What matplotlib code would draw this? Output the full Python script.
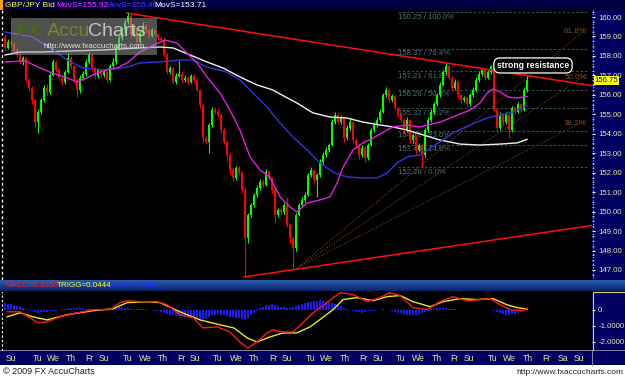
import numpy as np
import matplotlib
matplotlib.use("Agg")
import matplotlib.pyplot as plt
from matplotlib.patches import Rectangle
from matplotlib.colors import LinearSegmentedColormap
import matplotlib.transforms as mtransforms

plt.rcParams['font.family'] = ['Liberation Sans', 'DejaVu Sans']

# ---- 4h candles, GBP/JPY (open = previous close) ----
first_open = 158.97
closes = [158.41, 158.72, 158.61, 158.30, 158.05, 157.69, 157.89, 156.76, 156.35, 155.73,
          154.60, 155.12, 155.73, 156.35, 156.15, 157.02, 157.69, 157.28, 156.87, 156.66,
          157.17, 157.89, 157.48, 156.76, 156.25, 156.87, 157.07, 157.69, 158.05, 157.38,
          156.97, 157.28, 157.02, 157.17, 156.76, 157.48, 157.69, 158.41, 158.92, 159.33,
          159.74, 160.05, 159.08, 159.43, 158.72, 159.18, 159.54, 159.33, 159.02, 159.33,
          159.13, 158.92, 158.82, 158.05, 157.17, 157.38, 156.66, 156.97, 157.07, 156.76,
          156.87, 156.66, 156.97, 156.76, 156.25, 155.48, 153.78, 153.58, 154.45, 155.22,
          155.12, 154.96, 154.19, 153.58, 152.91, 152.14, 151.73, 152.24, 152.03, 151.11,
          148.64, 149.83, 150.34, 150.85, 151.21, 151.52, 151.37, 152.03, 151.73, 151.11,
          149.83, 150.08, 149.98, 150.34, 149.31, 148.64, 148.13, 149.83, 150.34, 150.60,
          150.85, 151.88, 152.14, 151.62, 151.88, 152.55, 152.91, 153.17, 153.42, 154.60,
          154.96, 154.60, 154.81, 153.78, 154.30, 154.60, 153.68, 153.42, 152.91, 153.27,
          152.75, 153.42, 154.19, 154.45, 154.71, 155.12, 155.99, 156.25, 155.73, 155.94,
          155.32, 154.96, 154.71, 154.19, 154.71, 153.68, 153.94, 153.17, 153.42, 152.91,
          154.19, 154.71, 155.12, 155.53, 155.99, 156.51, 157.17, 157.48, 156.87, 156.35,
          156.66, 155.99, 155.73, 155.84, 155.53, 155.99, 156.25, 156.76, 157.07, 157.28,
          156.87, 157.17, 157.48, 155.22, 154.30, 154.96, 154.60, 154.96, 154.19, 155.32,
          155.12, 155.53, 155.22, 156.25, 156.75]
highs = [159.10, 158.85, 158.80, 158.70, 158.40, 158.15, 158.00, 157.95, 156.85, 156.45,
         155.80, 155.25, 155.85, 156.50, 156.55, 157.15, 157.85, 157.80, 157.40, 157.00,
         157.30, 158.15, 158.00, 157.55, 156.85, 157.00, 157.20, 157.85, 158.20, 158.10,
         157.45, 157.40, 157.35, 157.30, 157.25, 157.60, 157.90, 158.55, 159.10, 159.50,
         159.90, 160.25, 160.15, 159.60, 159.50, 159.30, 159.75, 159.65, 159.40, 159.45,
         159.40, 159.20, 159.00, 158.90, 158.15, 157.50, 157.45, 157.10, 157.80, 157.15,
         157.00, 156.95, 157.05, 157.05, 156.85, 156.30, 155.55, 153.90, 154.55, 155.35,
         155.35, 155.25, 155.05, 154.30, 153.65, 153.00, 152.25, 152.35, 152.35, 152.10,
         151.20, 149.95, 150.45, 150.95, 151.35, 151.65, 151.70, 152.20, 152.15, 151.80,
         151.20, 150.20, 150.20, 150.45, 150.75, 149.40, 148.70, 149.95, 150.45, 150.75,
         151.00, 152.00, 152.30, 152.20, 152.00, 152.70, 153.05, 153.30, 153.55, 154.75,
         155.10, 155.05, 154.95, 154.90, 154.45, 154.80, 154.65, 153.80, 153.50, 153.40,
         153.35, 153.55, 154.30, 154.60, 154.85, 155.25, 156.10, 156.40, 156.35, 156.05,
         156.00, 155.40, 155.05, 154.80, 154.85, 154.75, 154.05, 154.00, 153.55, 153.50,
         154.30, 154.85, 155.25, 155.65, 156.10, 156.65, 157.30, 157.65, 157.55, 156.95,
         156.80, 156.75, 156.05, 155.95, 155.95, 156.10, 156.40, 156.90, 157.20, 157.40,
         157.35, 157.30, 157.55, 157.55, 155.30, 155.10, 155.05, 155.10, 155.05, 155.45,
         155.45, 155.65, 155.60, 156.40, 156.95]
lows = [158.30, 158.35, 158.50, 158.20, 157.95, 157.60, 157.55, 156.65, 156.20, 155.55,
        154.35, 154.05, 155.00, 155.65, 156.00, 156.05, 156.95, 157.15, 156.75, 156.50,
        156.55, 157.10, 157.35, 156.65, 155.90, 156.10, 156.75, 156.95, 157.60, 157.25,
        156.80, 156.85, 156.90, 156.90, 156.60, 156.70, 157.40, 157.60, 158.30, 158.80,
        159.20, 159.65, 158.95, 158.95, 158.60, 158.65, 159.05, 159.20, 158.90, 158.95,
        159.00, 158.80, 158.70, 157.95, 157.05, 157.05, 156.55, 156.55, 156.90, 156.65,
        156.65, 156.55, 156.60, 156.65, 156.15, 155.30, 153.55, 153.45, 153.00, 154.35,
        155.00, 154.85, 154.05, 153.45, 152.60, 151.95, 151.55, 151.60, 151.90, 150.95,
        146.64, 148.40, 149.70, 150.25, 150.75, 151.10, 151.25, 151.30, 151.60, 150.95,
        149.40, 149.70, 149.85, 149.90, 149.20, 148.40, 147.10, 148.00, 149.75, 150.25,
        150.50, 150.80, 151.80, 151.50, 150.75, 151.80, 152.45, 152.80, 153.05, 153.35,
        154.50, 154.50, 154.50, 153.60, 153.70, 154.20, 153.55, 153.30, 152.70, 152.80,
        152.55, 152.65, 153.35, 154.10, 154.35, 154.60, 155.05, 155.90, 155.60, 155.65,
        155.20, 154.85, 154.60, 154.05, 154.10, 153.50, 153.55, 152.95, 153.05, 152.29,
        152.80, 154.10, 154.60, 155.00, 155.45, 155.90, 156.45, 157.05, 156.75, 156.20,
        156.25, 155.85, 155.60, 155.65, 155.40, 155.45, 155.90, 156.15, 156.65, 156.95,
        156.75, 156.80, 157.05, 155.10, 154.10, 154.20, 154.45, 154.50, 153.80, 154.10,
        155.00, 155.05, 155.10, 155.15, 156.15]

# moving averages (bar index, value)
mag_idx = [0, 6.7, 11.7, 15, 20.7, 24, 27.3, 30.7, 34, 37.3, 40.7, 45, 48.3, 53.3, 57.3, 64,
           67.3, 71.7, 75, 78.3, 81.7, 85, 88.3, 91.7, 95, 97.3, 100.7, 105, 108.3, 110.7,
           112.7, 116, 119.3, 122.7, 127.3, 129.3, 134, 138.3, 145, 149.3, 155, 158.3,
           160.7, 162.7, 165, 167.7, 170.7, 174]
mag_val = [157.69, 157.74, 157.38, 157.17, 156.87, 156.66, 156.87, 157.12, 157.28, 157.38,
           157.64, 158.20, 158.46, 158.82, 158.66, 157.64, 156.92, 156.09, 155.22, 154.19,
           152.81, 152.14, 151.78, 150.75, 150.24, 149.98, 150.44, 150.60, 150.75, 151.47,
           152.29, 153.17, 153.53, 153.78, 154.19, 154.35, 154.45, 154.35, 154.60, 154.86,
           155.22, 155.58, 156.09, 156.30, 156.15, 155.89, 155.84, 155.92]
blue_idx = [0, 9.3, 16, 20.7, 26, 31.7, 36, 40.7, 45, 51.7, 58.3, 62.7, 67.3, 74, 78.3, 82.7,
            87.3, 91.7, 96, 100.7, 105, 109.3, 114, 119.3, 124, 127.3, 130.7, 134, 138.3,
            141.7, 145, 149.3, 155, 160.7, 165, 169.3, 174]
blue_val = [159.23, 158.97, 158.30, 157.79, 157.38, 157.28, 157.33, 157.43, 157.64, 157.69,
            157.79, 157.79, 157.43, 157.17, 156.76, 156.09, 155.38, 154.55, 153.83, 153.17,
            152.50, 152.03, 151.78, 151.73, 151.73, 151.98, 152.50, 152.81, 152.91, 153.27,
            153.58, 154.04, 154.45, 154.81, 154.96, 155.12, 155.46]
white_idx = [0, 5, 11.7, 20.7, 31.7, 38.3, 45, 51.7, 56, 61.7, 67.3, 72.7, 78.3, 84, 89.3,
             91.7, 97.3, 102.7, 108.3, 114, 119.3, 125, 129.3, 134, 138.3, 145, 151.7, 158.3,
             165, 170.7, 174]
white_val = [158.05, 158.20, 158.20, 158.25, 158.30, 158.36, 158.41, 158.46, 158.41, 158.05,
             157.69, 157.38, 156.92, 156.51, 156.25, 156.04, 155.58, 155.07, 154.86, 154.81,
             154.60, 154.45, 154.35, 154.19, 153.99, 153.68, 153.47, 153.42, 153.47, 153.53,
             153.71]

# MACD panel
macd_idx = [0.7, 5, 8.3, 11, 14, 18.3, 24, 29.3, 35, 38.3, 40.7, 45, 50.7, 54, 58.3, 62.7, 66,
            70.7, 75, 78.3, 81, 84, 87.3, 89.3, 92.7, 96, 99.3, 102.7, 107.3, 111.7, 116,
            120.7, 125, 128.3, 131.7, 136, 140.7, 145, 149.3, 154, 158.3, 161.7, 165, 168.3,
            172.7, 174]
macd_val = [-0.13, -0.13, -0.50, -0.81, -0.75, -0.44, -0.19, 0.00, 0.00, 0.44, 0.56, 0.50,
            0.50, 0.31, -0.31, -0.50, -1.13, -1.06, -1.38, -2.00, -2.38, -2.00, -1.44, -1.25,
            -1.38, -1.38, -0.81, -0.19, 0.44, 1.06, 0.94, 0.50, 0.75, 1.06, 0.88, 0.13, 0.00,
            0.50, 0.81, 0.56, 0.63, 0.69, 0.31, 0.00, -0.06, 0.1050]
trigg_idx = [0.7, 5, 9.3, 14, 20.7, 29.3, 36, 40.7, 47.3, 51.7, 58.3, 65, 71.7, 76.3, 80.7, 84,
             88.3, 92.7, 97.3, 101.7, 104, 109.3, 112.7, 117.3, 122.7, 127.3, 131.7, 136,
             141.7, 146, 151.7, 157.3, 162.7, 167.3, 170.7, 174]
trigg_val = [-0.44, -0.19, -0.44, -0.63, -0.31, -0.06, 0.06, 0.44, 0.50, 0.44, -0.13, -0.63,
             -0.94, -1.13, -1.75, -2.00, -1.69, -1.44, -1.44, -1.06, -0.75, 0.00, 0.63, 0.75,
             0.56, 0.81, 0.88, 0.50, 0.19, 0.50, 0.69, 0.63, 0.69, 0.31, 0.13, 0.0444]
osc = [0.40, 0.38, 0.35, 0.30, 0.22, 0.15, 0.08, 0.02, -0.05, -0.10,
       -0.15, -0.18, -0.16, -0.14, -0.12, -0.10, -0.08, -0.05, -0.02, 0.02,
       0.05, 0.08, 0.10, 0.12, 0.12, 0.10, 0.08, 0.06, 0.05, 0.05,
       0.04, 0.03, 0.02, 0.02, 0.03, 0.05, 0.08, 0.12, 0.15, 0.14,
       0.12, 0.10, 0.06, 0.03, 0.02, 0.02, 0.02, 0.02, 0.01, -0.02,
       -0.05, -0.08, -0.12, -0.18, -0.24, -0.30, -0.34, -0.36, -0.38, -0.40,
       -0.42, -0.44, -0.46, -0.48, -0.50, -0.55, -0.58, -0.55, -0.45, -0.35,
       -0.30, -0.28, -0.30, -0.35, -0.40, -0.45, -0.48, -0.50, -0.52, -0.55,
       -0.58, -0.50, -0.35, -0.20, -0.05, 0.10, 0.20, 0.28, 0.32, 0.35,
       0.30, 0.25, 0.20, 0.15, 0.10, 0.12, 0.18, 0.25, 0.32, 0.38,
       0.42, 0.45, 0.50, 0.52, 0.55, 0.58, 0.55, 0.50, 0.45, 0.40,
       0.35, 0.30, 0.22, 0.12, 0.05, -0.02, -0.08, -0.12, -0.15, -0.18,
       -0.15, -0.10, -0.08, -0.05, -0.03, 0.00, 0.02, 0.00, -0.03, -0.08,
       -0.12, -0.18, -0.22, -0.28, -0.32, -0.35, -0.33, -0.30, -0.25, -0.20,
       -0.12, -0.05, 0.02, 0.06, 0.08, 0.10, 0.10, 0.08, 0.06, 0.04,
       0.02, 0.01, 0.00, -0.01, -0.02, -0.02, -0.01, 0.00, 0.00, 0.01,
       0.01, 0.00, -0.02, -0.08, -0.15, -0.22, -0.28, -0.30, -0.30, -0.28,
       -0.24, -0.20, -0.14, -0.06, 0.06]

# day starts (bar index) and labels
day_pos = [2, 11, 16, 22, 28, 33, 40.7, 46.7, 52.7, 58.7, 63.3, 71, 77.3, 83, 89.3, 94,
           101.7, 107.3, 113.3, 119.3, 124.3, 132, 137.7, 144, 149.7, 154.7, 162.7, 168.3,
           174.3, 180.3, 186, 191.3]
day_lab = ['Su', 'Tu', 'We', 'Th', 'Fr', 'Su', 'Tu', 'We', 'Th', 'Fr', 'Su', 'Tu', 'We', 'Th',
           'Fr', 'Su', 'Tu', 'We', 'Th', 'Fr', 'Su', 'Tu', 'We', 'Th', 'Fr', 'Su', 'Tu', 'We',
           'Th', 'Fr', 'Sa', 'Su']

# fibonacci retracement / fan
fib_low, fib_high = 152.28, 160.25
fib_pcts = [0.0, 14.6, 23.6, 38.2, 50.0, 61.8, 76.4, 100.0]
fib_from, fib_to = 131, 194.3
fan_start_idx, fan_start_price = 97.3, 147.10
fan_span = 20.0
fan_pcts = [38.2, 50.0, 61.8]

# trend lines
resist_idx, resist_val = [40.7, 195.7], [160.20, 156.47]
support_idx, support_val = [79.7, 195.7], [146.64, 149.29]

W, H = 625, 378
X0, X1 = -1.0, 195.67
YC = '#e8e8a8'   # pale yellow labels
NAVY = '#000060'

fig = plt.figure(figsize=(W / 100, H / 100), dpi=100)
fig.patch.set_facecolor('white')


def box(x0, y0, x1, y1):
    return [x0 / W, 1 - y1 / H, (x1 - x0) / W, (y1 - y0) / H]


def frect(x0, y0, x1, y1, color, z=-5, **kw):
    fig.patches.append(Rectangle((x0 / W, 1 - y1 / H), (x1 - x0) / W, (y1 - y0) / H,
                                 transform=fig.transFigure, facecolor=color,
                                 edgecolor='none', zorder=z, **kw))


def fline(xs, ys, **kw):
    fig.add_artist(plt.Line2D([x / W for x in xs], [1 - y / H for y in ys],
                              transform=fig.transFigure, **kw))


def ftext(x, y, s, **kw):
    fig.text(x / W, 1 - y / H, s, **kw)


# backgrounds
frect(0, 0, 625, 365, 'black')
frect(0, 0, 625, 10, '#000040')
frect(0, 0, 3, 10, '#ffa000')
frect(592, 10, 625, 280, NAVY)
frect(592, 291, 625, 350, NAVY)
frect(0, 350, 625, 365, NAVY)
frect(0, 350, 625, 351, '#8080a0')
fline([593, 593], [10, 279], color='#e0d070', lw=0.8, ls=(0, (1, 2)))
fline([593, 593, 625], [350, 292, 292], color='#e0d070', lw=0.8)
fline([592, 592], [351, 365], color='#8080a0', lw=0.8)

# ---- price panel ----
ax = fig.add_axes(box(2, 10, 592, 279))
ax.set_facecolor('black')
ax.set_xlim(X0, X1)
ax.set_ylim(160 - (279 - 17) / 19.46, 160 - (10 - 17) / 19.46)

o = np.array([first_open] + closes[:-1])
c = np.array(closes)
idx = np.arange(len(c))
cols = np.where(c >= o, '#00ff00', '#ff0000')
ax.vlines(idx, lows, highs, colors=cols, lw=0.8, zorder=2)
ax.bar(idx, np.maximum(np.abs(c - o), 0.03), bottom=np.minimum(o, c), width=0.62,
       color=cols, linewidth=0, zorder=2)

ax.plot(white_idx, white_val, color='#f0f0f0', lw=1.0, zorder=3)
ax.plot(blue_idx, blue_val, color='#3434d8', lw=1.0, zorder=3)
ax.plot(mag_idx, mag_val, color='#e020e0', lw=1.0, zorder=3)

# fib retracement
for pct in fib_pcts:
    lvl = fib_low + pct / 100 * (fib_high - fib_low)
    ax.plot([fib_from, fib_to], [lvl, lvl], color='#355656', lw=0.8, ls=(0, (2, 2)), zorder=1)
    ax.text(fib_from, lvl - 0.08, f'{lvl:.2f} / {pct:.1f}%', color='#4a7474', fontsize=5.6,
            ha='left', va='top', zorder=1)

# fib fan
for pct in fan_pcts:
    end = fan_start_price + pct / 100 * fan_span
    ax.plot([fan_start_idx, fib_to], [fan_start_price, end], color='#70441a', lw=0.8,
            ls=(0, (1, 1.5)), zorder=1)
    ax.text(fib_to - 0.3, end - 0.02, f'{pct:.1f}%', color='#7e4e20', fontsize=5.8,
            ha='right', va='top', zorder=1)

ax.plot(resist_idx, resist_val, color='#ff1010', lw=1.1, zorder=4)
ax.plot(support_idx, support_val, color='#ff1010', lw=1.1, zorder=4)

ax.text(176.0, 157.51, 'strong resistance', color='white', fontsize=6.2, fontweight='bold',
        ha='center', va='center', zorder=6,
        bbox=dict(boxstyle='round,pad=0.35,rounding_size=0.7', fc='black', ec='white', lw=0.9))

for s in ['top', 'right', 'bottom']:
    ax.spines[s].set_visible(False)
ax.spines['left'].set_color('white')
ax.spines['left'].set_linestyle((0, (1, 3)))
ax.spines['left'].set_linewidth(1.0)
ax.set_xticks([])
ax.yaxis.tick_right()
ax.set_yticks(np.arange(147, 161, 1.0))
ax.set_yticklabels([f'{v:.2f}' for v in np.arange(147, 161, 1.0)])
ax.set_yticks(np.arange(146.75, 160.5, 0.25), minor=True)
ax.tick_params(axis='y', which='major', length=2, width=0.8, color='white', pad=2.5,
               labelsize=5.6, labelcolor=YC)
ax.tick_params(axis='y', which='minor', length=1.5, width=0.6, color='#c8c8c8')

trans = mtransforms.blended_transform_factory(ax.transAxes, ax.transData)
ax.text(1.004, closes[-1], f'{closes[-1]:.2f}', transform=trans, color='#0000b0',
        fontsize=5.6, ha='left', va='center', clip_on=False, zorder=7,
        bbox=dict(fc='#ffff00', ec='none', pad=0.6))

# ---- separator bar ----
sep = fig.add_axes(box(0, 280, 625, 291))
sep.imshow(np.linspace(0, 1, 20).reshape(-1, 1), aspect='auto', extent=(0, 1, 0, 1),
           cmap=LinearSegmentedColormap.from_list('sep', ['#2a5cb0', '#0a2468']))
sep.axis('off')
ftext(5, 285.5, f'MACD={macd_val[-1]:.4f}', color='#ff2020', fontsize=5.8, va='center')
ftext(57, 285.5, f'TRIGG={trigg_val[-1]:.4f}', color='#ffff40', fontsize=5.8, va='center')
ftext(111, 285.5, f'OscE={macd_val[-1] - trigg_val[-1]:.4f}', color='#2a2aff', fontsize=5.8,
      va='center')

# ---- MACD panel ----
mx = fig.add_axes(box(2, 292, 592, 350))
mx.set_facecolor('black')
mx.set_xlim(X0, X1)
mx.set_ylim(-2.5, 1.1)
mx.bar(idx, osc, width=0.45, color='#1a1aff', linewidth=0, zorder=1)
mx.plot(trigg_idx, trigg_val, color='#e8e820', lw=1.0, zorder=2)
mx.plot(macd_idx, macd_val, color='#ff1818', lw=1.0, zorder=3)
for s in ['top', 'right', 'bottom']:
    mx.spines[s].set_visible(False)
mx.spines['left'].set_color('white')
mx.spines['left'].set_linestyle((0, (1, 3)))
mx.set_xticks([])
mx.yaxis.tick_right()
mx.set_yticks([0, -1, -2])
mx.set_yticklabels(['0', '-1.0000', '-2.0000'])
mx.tick_params(axis='y', length=2, width=0.8, color='white', pad=2.5, labelsize=5.6,
               labelcolor=YC)

# ---- date axis ----
dx = fig.add_axes(box(2, 351, 592, 365))
dx.set_xlim(X0, X1)
dx.set_ylim(0, 1)
dx.axis('off')
for p, lab in zip(day_pos, day_lab):
    dx.text(p, 0.45, lab, color=YC, fontsize=6.2, ha='center', va='center')

# ---- header ----
ftext(5, 5.5, 'GBP/JPY Bid', color='#ffff30', fontsize=6, va='center')
ftext(56, 5.5, f'MovS={mag_val[-1]:.2f}', color='#ff30ff', fontsize=6, va='center')
ftext(105, 5.5, f'MovS={blue_val[-1]:.2f}', color='#3c3cff', fontsize=6, va='center')
ftext(154, 5.5, f'MovS={white_val[-1]:.2f}', color='white', fontsize=6, va='center')

# ---- watermark ----
frect(11, 18, 157, 55, '#a0a0a0', z=5, alpha=0.5)
ftext(17, 31, 'FX', color='#4a6a12', fontsize=14, fontweight='bold', va='center', zorder=6)
ftext(47, 31, 'Accu', color='#6c8c2c', fontsize=14, va='center', zorder=6)
ftext(88, 31, 'Charts', color='#c4c4c4', fontsize=14, va='center', zorder=6)
ftext(43, 47, 'http://www.fxaccucharts.com', color='#e4e4e4', fontsize=5.8, va='center',
      zorder=6)

# ---- footer ----
ftext(3, 372, '\u00a9 2009 FX AccuCharts', color='#202020', fontsize=6.5, va='center')
ftext(623, 372, 'http://www.fxaccucharts.com', color='#202020', fontsize=6, va='center',
      ha='right')

fig.savefig('out.png', dpi=100, facecolor=fig.get_facecolor())
